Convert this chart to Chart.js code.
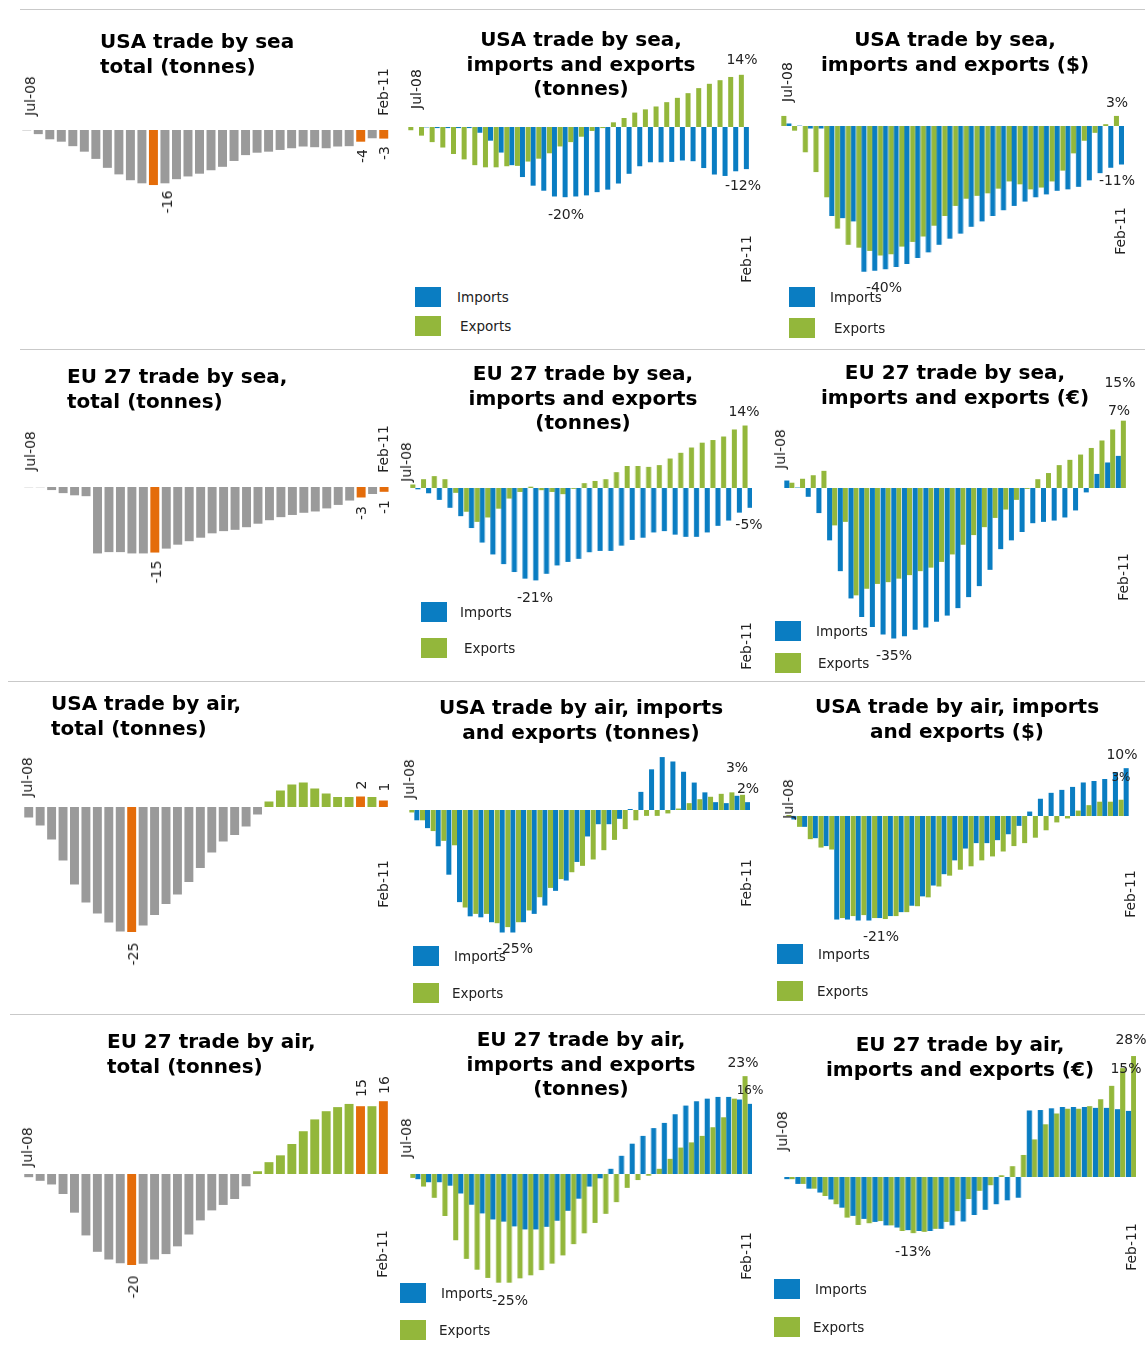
<!DOCTYPE html>
<html>
<head>
<meta charset="utf-8">
<title>Trade by sea and air</title>
<script src="https://cdn.jsdelivr.net/npm/chart.js@4.4.0/dist/chart.umd.min.js"></script>
<style>
  body { margin: 0; background: #fff; }
  #page { position: relative; width: 1148px; height: 1349px; overflow: hidden; font-family: "DejaVu Sans", Verdana, sans-serif; color: #222; }
  .box { position: absolute; }
  .title { position: absolute; font-weight: bold; font-size: 20px; line-height: 24.5px; color: #000; white-space: nowrap; }
  .t { position: absolute; font-size: 14px; white-space: nowrap; transform: translate(-50%, -50%); }
  .t.rot { transform: translate(-50%, -50%) rotate(-90deg); }
  .sep { position: absolute; height: 1px; background: #c9c9c9; }
  .sw { position: absolute; width: 26px; height: 20px; }
  .lg { position: absolute; font-size: 13.5px; transform: translateY(-50%); white-space: nowrap; }
</style>
</head>
<body>
<div id="page"></div>
<script>
// ========================================
// Monthly change, Jul-08 .. Feb-11
// ========================================

const months = ['Jul-08', 'Aug-08', 'Sep-08', 'Oct-08', 'Nov-08', 'Dec-08', 'Jan-09', 'Feb-09', 'Mar-09', 'Apr-09', 'May-09', 'Jun-09',
    'Jul-09', 'Aug-09', 'Sep-09', 'Oct-09', 'Nov-09', 'Dec-09', 'Jan-10', 'Feb-10', 'Mar-10', 'Apr-10', 'May-10', 'Jun-10',
    'Jul-10', 'Aug-10', 'Sep-10', 'Oct-10', 'Nov-10', 'Dec-10', 'Jan-11', 'Feb-11'];

// totals (tonnes), highlighted bars in orange
const usaSeaTotal = [-0.1, -1.2, -2.7, -3.4, -4.7, -6.3, -8.4, -11.0, -12.9, -14.6, -15.5, -16.0, -15.5, -14.3, -13.5, -12.7,
    -11.7, -10.7, -9.0, -7.3, -6.6, -6.3, -5.8, -5.3, -4.8, -5.0, -5.3, -4.8, -4.7, -3.4, -2.4, -2.5];
const usaSeaMarks = [11, 29, 31];
const euSeaTotal = [-0.05, -0.05, -0.7, -1.4, -1.9, -2.1, -15.2, -14.9, -14.9, -15.2, -15.2, -15.0, -14.1, -13.2, -12.4, -11.6,
    -10.6, -10.1, -9.8, -9.2, -8.4, -7.6, -6.9, -6.4, -5.9, -5.6, -4.9, -4.1, -3.1, -2.4, -1.6, -1.1];
const euSeaMarks = [11, 29, 31];
const usaAirTotal = [-2.1, -3.7, -6.5, -10.7, -15.5, -19.1, -21.3, -23.1, -24.9, -25.0, -23.7, -21.6, -19.4, -17.5, -15.0, -12.2,
    -9.1, -6.9, -5.6, -3.9, -1.5, 1.1, 3.3, 4.5, 4.9, 3.7, 2.7, 2.0, 2.0, 2.1, 2.0, 1.3];
const usaAirMarks = [9, 29, 31];
const euAirTotal = [-0.7, -1.5, -2.3, -4.4, -8.5, -13.5, -17.1, -18.8, -19.6, -20.0, -19.7, -18.8, -17.6, -15.9, -13.3, -10.2,
    -8.0, -6.8, -5.5, -2.7, 0.6, 2.6, 4.1, 6.6, 9.4, 12.0, 13.8, 14.7, 15.4, 14.9, 14.9, 16.0];
const euAirMarks = [9, 29, 31];

// imports / exports (%)
const usaSeaTonImp = [0, -0.1, -0.3, -0.3, -0.3, -0.3, -1.6, -3.8, -7.1, -10.6, -13.9, -16.3, -17.7, -19.3, -19.5, -19.3,
    -19.0, -18.1, -17.4, -15.7, -13.0, -10.9, -9.8, -9.8, -9.7, -9.3, -9.5, -11.4, -13.2, -13.6, -12.3, -11.7];
const usaSeaTonExp = [-0.9, -2.4, -4.2, -5.7, -7.5, -9.0, -10.6, -11.2, -11.2, -10.9, -10.8, -9.6, -8.8, -7.3, -5.4, -4.2,
    -2.7, -1.1, -0.3, 1.3, 2.5, 4.0, 4.9, 5.7, 6.9, 8.1, 9.4, 10.8, 12.0, 13.0, 13.9, 14.5];
const usaSeaUsdImp = [0.7, 0.1, -0.7, -0.7, -25.0, -25.6, -26.5, -40.5, -40.2, -39.8, -39.2, -38.3, -36.7, -35.1, -33.0, -31.3,
    -29.9, -28.0, -26.5, -25.0, -23.4, -22.2, -21.0, -19.8, -19.0, -18.0, -17.6, -16.9, -15.1, -13.1, -11.6, -10.7];
const usaSeaUsdExp = [2.8, -1.3, -7.3, -12.8, -19.8, -28.5, -33.0, -33.8, -34.7, -36.0, -35.6, -33.5, -32.2, -30.7, -27.7, -25.0,
    -22.2, -20.2, -19.4, -18.7, -17.4, -15.4, -16.2, -17.6, -17.1, -15.4, -12.4, -7.6, -4.1, -1.9, 0.5, 2.8];
const euSeaTonImp = [-0.3, -1.2, -2.7, -4.5, -6.4, -9.1, -12.4, -15.1, -17.3, -19.1, -20.6, -21.0, -19.5, -17.6, -16.8, -16.1,
    -14.6, -14.3, -14.3, -13.1, -11.8, -11.3, -10.1, -9.8, -10.6, -11.1, -11.1, -10.1, -8.6, -7.4, -5.6, -4.5];
const euSeaTonExp = [0.8, 2.0, 2.7, 2.0, -1.1, -5.4, -7.7, -6.7, -4.7, -2.4, -0.9, 0.3, -0.5, -0.9, -1.4, -0.2,
    1.1, 1.6, 2.0, 3.6, 5.0, 5.0, 4.8, 5.2, 6.7, 8.0, 9.2, 10.3, 10.9, 11.7, 13.3, 14.2];
const euSeaEurImp = [1.7, 0.1, -2.0, -5.7, -11.9, -18.9, -25.1, -29.3, -31.6, -33.3, -34.2, -33.7, -32.2, -31.7, -30.4, -29.0,
    -27.3, -24.8, -22.3, -18.6, -13.9, -11.9, -10.0, -8.0, -7.7, -7.4, -6.7, -5.1, -1.0, 3.2, 5.8, 7.3];
const euSeaEurExp = [1.2, 2.1, 2.9, 3.9, -8.5, -7.7, -24.4, -22.9, -21.8, -21.4, -20.6, -19.8, -18.9, -18.1, -16.8, -15.1,
    -12.9, -10.7, -8.9, -6.8, -4.9, -2.7, -0.2, 2.0, 3.4, 5.2, 6.4, 7.6, 9.1, 10.8, 13.3, 15.3];
const usaAirTonImp = [-2.1, -3.7, -7.4, -13.2, -18.8, -21.7, -21.9, -22.9, -25.0, -25.0, -22.9, -21.2, -19.5, -16.5, -14.4, -10.6,
    -5.4, -2.9, -2.9, -1.8, 0.2, 3.7, 8.3, 10.8, 9.9, 7.8, 5.6, 3.6, 1.6, 1.4, 2.9, 1.6];
const usaAirTonExp = [-0.5, -2.1, -4.3, -6.3, -7.2, -19.9, -21.2, -21.2, -23.1, -23.9, -22.9, -20.5, -17.8, -15.9, -14.1, -12.7,
    -11.4, -10.1, -8.2, -6.1, -3.9, -2.1, -1.2, -1.2, -0.7, 0.3, 1.4, 2.2, 2.7, 3.3, 3.6, 3.1];
const usaAirUsdImp = [-0.7, -2.2, -4.5, -6.1, -21.0, -21.0, -21.2, -21.2, -20.7, -20.3, -19.5, -18.2, -16.3, -14.1, -11.8, -9.0,
    -6.6, -5.5, -5.5, -4.9, -3.7, -2.0, 0.9, 3.5, 4.7, 5.3, 5.9, 6.8, 7.1, 7.5, 8.9, 9.7];
const usaAirUsdExp = [0.2, -2.2, -4.7, -6.4, -6.8, -20.7, -20.3, -20.1, -20.7, -20.9, -20.3, -19.5, -18.3, -16.5, -14.3, -12.1,
    -10.9, -10.2, -9.0, -8.2, -7.2, -6.1, -5.5, -4.4, -2.9, -1.3, -0.5, 1.1, 2.2, 2.9, 2.9, 3.3];
const euAirTonImp = [-1.2, -1.9, -1.9, -2.7, -4.5, -7.1, -9.1, -10.5, -11.0, -12.1, -12.8, -12.8, -12.2, -10.8, -8.5, -5.7,
    -2.9, -1.0, 1.2, 4.2, 7.0, 8.8, 10.6, 11.8, 13.8, 15.8, 16.8, 17.4, 17.8, 17.8, 17.2, 16.2];
const euAirTonExp = [-0.9, -2.9, -5.5, -9.7, -15.3, -19.6, -22.1, -24.0, -25.1, -25.1, -24.1, -23.4, -22.2, -20.7, -18.8, -16.2,
    -13.7, -11.3, -9.2, -6.5, -3.2, -1.4, -0.4, 1.2, 3.5, 6.1, 7.3, 8.8, 10.8, 13.1, 17.4, 22.6];
const euAirEurImp = [-0.5, -1.6, -2.7, -3.6, -5.2, -7.1, -9.0, -9.7, -10.4, -11.2, -11.7, -12.3, -12.5, -12.5, -12.0, -11.2,
    -10.3, -8.8, -7.6, -6.3, -5.4, -4.8, 15.4, 15.5, 15.9, 16.2, 16.2, 16.2, 16.0, 16.0, 15.7, 15.3];
const euAirEurExp = [-0.5, -1.6, -2.7, -4.4, -6.3, -9.4, -11.1, -10.7, -10.2, -11.2, -12.5, -13.0, -12.7, -12.0, -10.4, -7.9,
    -5.1, -3.2, -1.9, 0.4, 2.5, 5.1, 8.7, 12.2, 14.7, 15.8, 15.8, 16.4, 18.0, 21.1, 25.2, 28.0];

const BLUE = '#0a7dc2';
const GREEN = '#93b73b';
const GREY = '#9a9a9a';
const ORANGE = '#e46c0a';

// ========================================
// Layout (page pixels)
// ========================================

const panels = [
    { total: usaSeaTotal, marks: usaSeaMarks, left: 20.9, width: 368.5, zero: 130, ppu: 3.44,
      title: ['USA trade by sea', 'total (tonnes)'], tx: 100, ty: 29, align: 'left',
      notes: [['Jul-08', 30, 96, 1], ['Feb-11', 383, 92, 1], ['-16', 167, 202, 1], ['-4', 362, 156, 1], ['-3', 384, 153, 1]] },
    { imp: usaSeaTonImp, exp: usaSeaTonExp, first: 'exp', left: 408.2, width: 341.2, zero: 126.7, ppu: 3.6,
      title: ['USA trade by sea,', 'imports and exports', '(tonnes)'], tx: 581, ty: 27, align: 'center',
      notes: [['Jul-08', 416, 89, 1], ['Feb-11', 746, 259, 1], ['14%', 742, 59], ['-12%', 743, 185], ['-20%', 566, 214]],
      legend: [415, 287, 316, 457, 460] },
    { imp: usaSeaUsdImp, exp: usaSeaUsdExp, first: 'exp', left: 781.4, width: 342.3, zero: 126, ppu: 3.6,
      title: ['USA trade by sea,', 'imports and exports ($)'], tx: 955, ty: 27, align: 'center',
      notes: [['Jul-08', 787, 82, 1], ['Feb-11', 1120, 231, 1], ['3%', 1117, 102], ['-11%', 1117, 180], ['-40%', 884, 287]],
      legend: [789, 287, 318, 830, 834] },

    { total: euSeaTotal, marks: euSeaMarks, left: 22.6, width: 366.8, zero: 487, ppu: 4.37,
      title: ['EU 27 trade by sea,', 'total (tonnes)'], tx: 67, ty: 364, align: 'left',
      notes: [['Jul-08', 30, 451, 1], ['Feb-11', 383, 449, 1], ['-15', 156, 572, 1], ['-3', 361, 513, 1], ['-1', 384, 507, 1]] },
    { imp: euSeaTonImp, exp: euSeaTonExp, first: 'exp', left: 409.7, width: 341.9, zero: 488, ppu: 4.4,
      title: ['EU 27 trade by sea,', 'imports and exports', '(tonnes)'], tx: 583, ty: 361, align: 'center',
      notes: [['Jul-08', 406, 462, 1], ['Feb-11', 746, 646, 1], ['14%', 744, 411], ['-5%', 749, 524], ['-21%', 535, 597]],
      legend: [421, 602, 638, 460, 464] },
    { imp: euSeaEurImp, exp: euSeaEurExp, first: 'imp', left: 784.3, width: 342.2, zero: 487.7, ppu: 4.4,
      title: ['EU 27 trade by sea,', 'imports and exports (€)'], tx: 955, ty: 360, align: 'center',
      notes: [['Jul-08', 780, 449, 1], ['Feb-11', 1123, 577, 1], ['15%', 1120, 382], ['7%', 1119, 410], ['-35%', 894, 655]],
      legend: [775, 621, 653, 816, 818] },

    { total: usaAirTotal, marks: usaAirMarks, left: 23.3, width: 366.1, zero: 806.7, ppu: 5,
      title: ['USA trade by air,', 'total (tonnes)'], tx: 51, ty: 691, align: 'left',
      notes: [['Jul-08', 27, 777, 1], ['Feb-11', 383, 884, 1], ['-25', 133, 954, 1], ['2', 361, 785, 1], ['1', 384, 787, 1]] },
    { imp: usaAirTonImp, exp: usaAirTonExp, first: 'exp', left: 408.5, width: 341.4, zero: 810.3, ppu: 4.9,
      title: ['USA trade by air, imports', 'and exports (tonnes)'], tx: 581, ty: 695, align: 'center',
      notes: [['Jul-08', 409, 779, 1], ['Feb-11', 746, 883, 1], ['3%', 737, 767], ['2%', 748, 788], ['-25%', 515, 948]],
      legend: [413, 946, 983, 454, 452] },
    { imp: usaAirUsdImp, exp: usaAirUsdExp, first: 'exp', left: 785.8, width: 343, zero: 816.3, ppu: 4.93,
      title: ['USA trade by air, imports', 'and exports ($)'], tx: 957, ty: 694, align: 'center',
      notes: [['Jul-08', 788, 799, 1], ['Feb-11', 1130, 894, 1], ['10%', 1122, 754], ['3%', 1121, 777, 0, 12], ['-21%', 881, 936]],
      legend: [777, 944, 981, 818, 817] },

    { total: euAirTotal, marks: euAirMarks, left: 23.3, width: 366.1, zero: 1173.7, ppu: 4.55,
      title: ['EU 27 trade by air,', 'total (tonnes)'], tx: 107, ty: 1029, align: 'left',
      notes: [['Jul-08', 27, 1147, 1], ['Feb-11', 382, 1254, 1], ['-20', 133, 1287, 1], ['15', 361, 1088, 1], ['16', 384, 1085, 1]] },
    { imp: euAirTonImp, exp: euAirTonExp, first: 'exp', left: 409.7, width: 341.9, zero: 1174.3, ppu: 4.33,
      title: ['EU 27 trade by air,', 'imports and exports', '(tonnes)'], tx: 581, ty: 1027, align: 'center',
      notes: [['Jul-08', 406, 1138, 1], ['Feb-11', 746, 1256, 1], ['23%', 743, 1062], ['16%', 750, 1090, 0, 12], ['-25%', 510, 1300]],
      legend: [400, 1283, 1320, 441, 439] },
    { imp: euAirEurImp, exp: euAirEurExp, first: 'imp', left: 784.2, width: 351.6, zero: 1177, ppu: 4.32,
      title: ['EU 27 trade by air,', 'imports and exports (€)'], tx: 960, ty: 1032, align: 'center',
      notes: [['Jul-08', 782, 1131, 1], ['Feb-11', 1131, 1247, 1], ['28%', 1131, 1039], ['15%', 1126, 1068], ['-13%', 913, 1251]],
      legend: [774, 1279, 1317, 815, 813] }
];

const separators = [[20, 9], [20, 349], [8, 681], [10, 1014]];

const page = document.getElementById('page');

function el(cls, css, text) {
    const d = document.createElement('div');
    d.className = cls;
    d.style.cssText = css;
    if (text !== undefined) d.textContent = text;
    page.appendChild(d);
    return d;
}

function datasetsFor(p) {
    if (p.total) {
        return [{
            data: p.total,
            backgroundColor: p.total.map((v, i) => p.marks.includes(i) ? ORANGE : v >= 0 ? GREEN : GREY),
            barPercentage: 0.78,
            categoryPercentage: 1
        }];
    }
    const imp = { data: p.imp, backgroundColor: BLUE, barPercentage: 1, categoryPercentage: 0.94 };
    const exp = { data: p.exp, backgroundColor: GREEN, barPercentage: 1, categoryPercentage: 0.94 };
    return p.first === 'imp' ? [imp, exp] : [exp, imp];
}

function drawPanel(p) {
    const above = 130, height = 290;
    const wrap = el('box', `left:${p.left}px;top:${p.zero - above}px;width:${p.width}px;height:${height}px;`);
    const canvas = document.createElement('canvas');
    wrap.appendChild(canvas);

    new Chart(canvas, {
        type: 'bar',
        data: { labels: months, datasets: datasetsFor(p) },
        options: {
            responsive: true,
            maintainAspectRatio: false,
            animation: false,
            layout: { padding: 0 },
            plugins: { legend: { display: false }, tooltip: { enabled: false } },
            scales: {
                x: { display: false },
                y: { display: false, min: -(height - above) / p.ppu, max: above / p.ppu }
            }
        }
    });

    // title
    const t = el('title', p.align === 'left'
        ? `left:${p.tx}px;top:${p.ty}px;`
        : `left:${p.tx - 200}px;top:${p.ty}px;width:400px;text-align:center;`);
    t.innerHTML = p.title.join('<br>');

    // axis ends and value labels
    p.notes.forEach(([text, x, y, rot, size]) => {
        el(rot ? 't rot' : 't', `left:${x}px;top:${y}px;${size ? 'font-size:' + size + 'px;' : ''}`, text);
    });

    // legend
    if (p.legend) {
        const [bx, yi, ye, xi, xe] = p.legend;
        el('sw', `left:${bx}px;top:${yi}px;background:${BLUE};`);
        el('sw', `left:${bx}px;top:${ye}px;background:${GREEN};`);
        el('lg', `left:${xi}px;top:${yi + 10}px;`, 'Imports');
        el('lg', `left:${xe}px;top:${ye + 10}px;`, 'Exports');
    }
}

separators.forEach(([x, y]) => el('sep', `left:${x}px;top:${y}px;width:${1145 - x}px;`));
panels.forEach(drawPanel);
</script>
</body>
</html>
